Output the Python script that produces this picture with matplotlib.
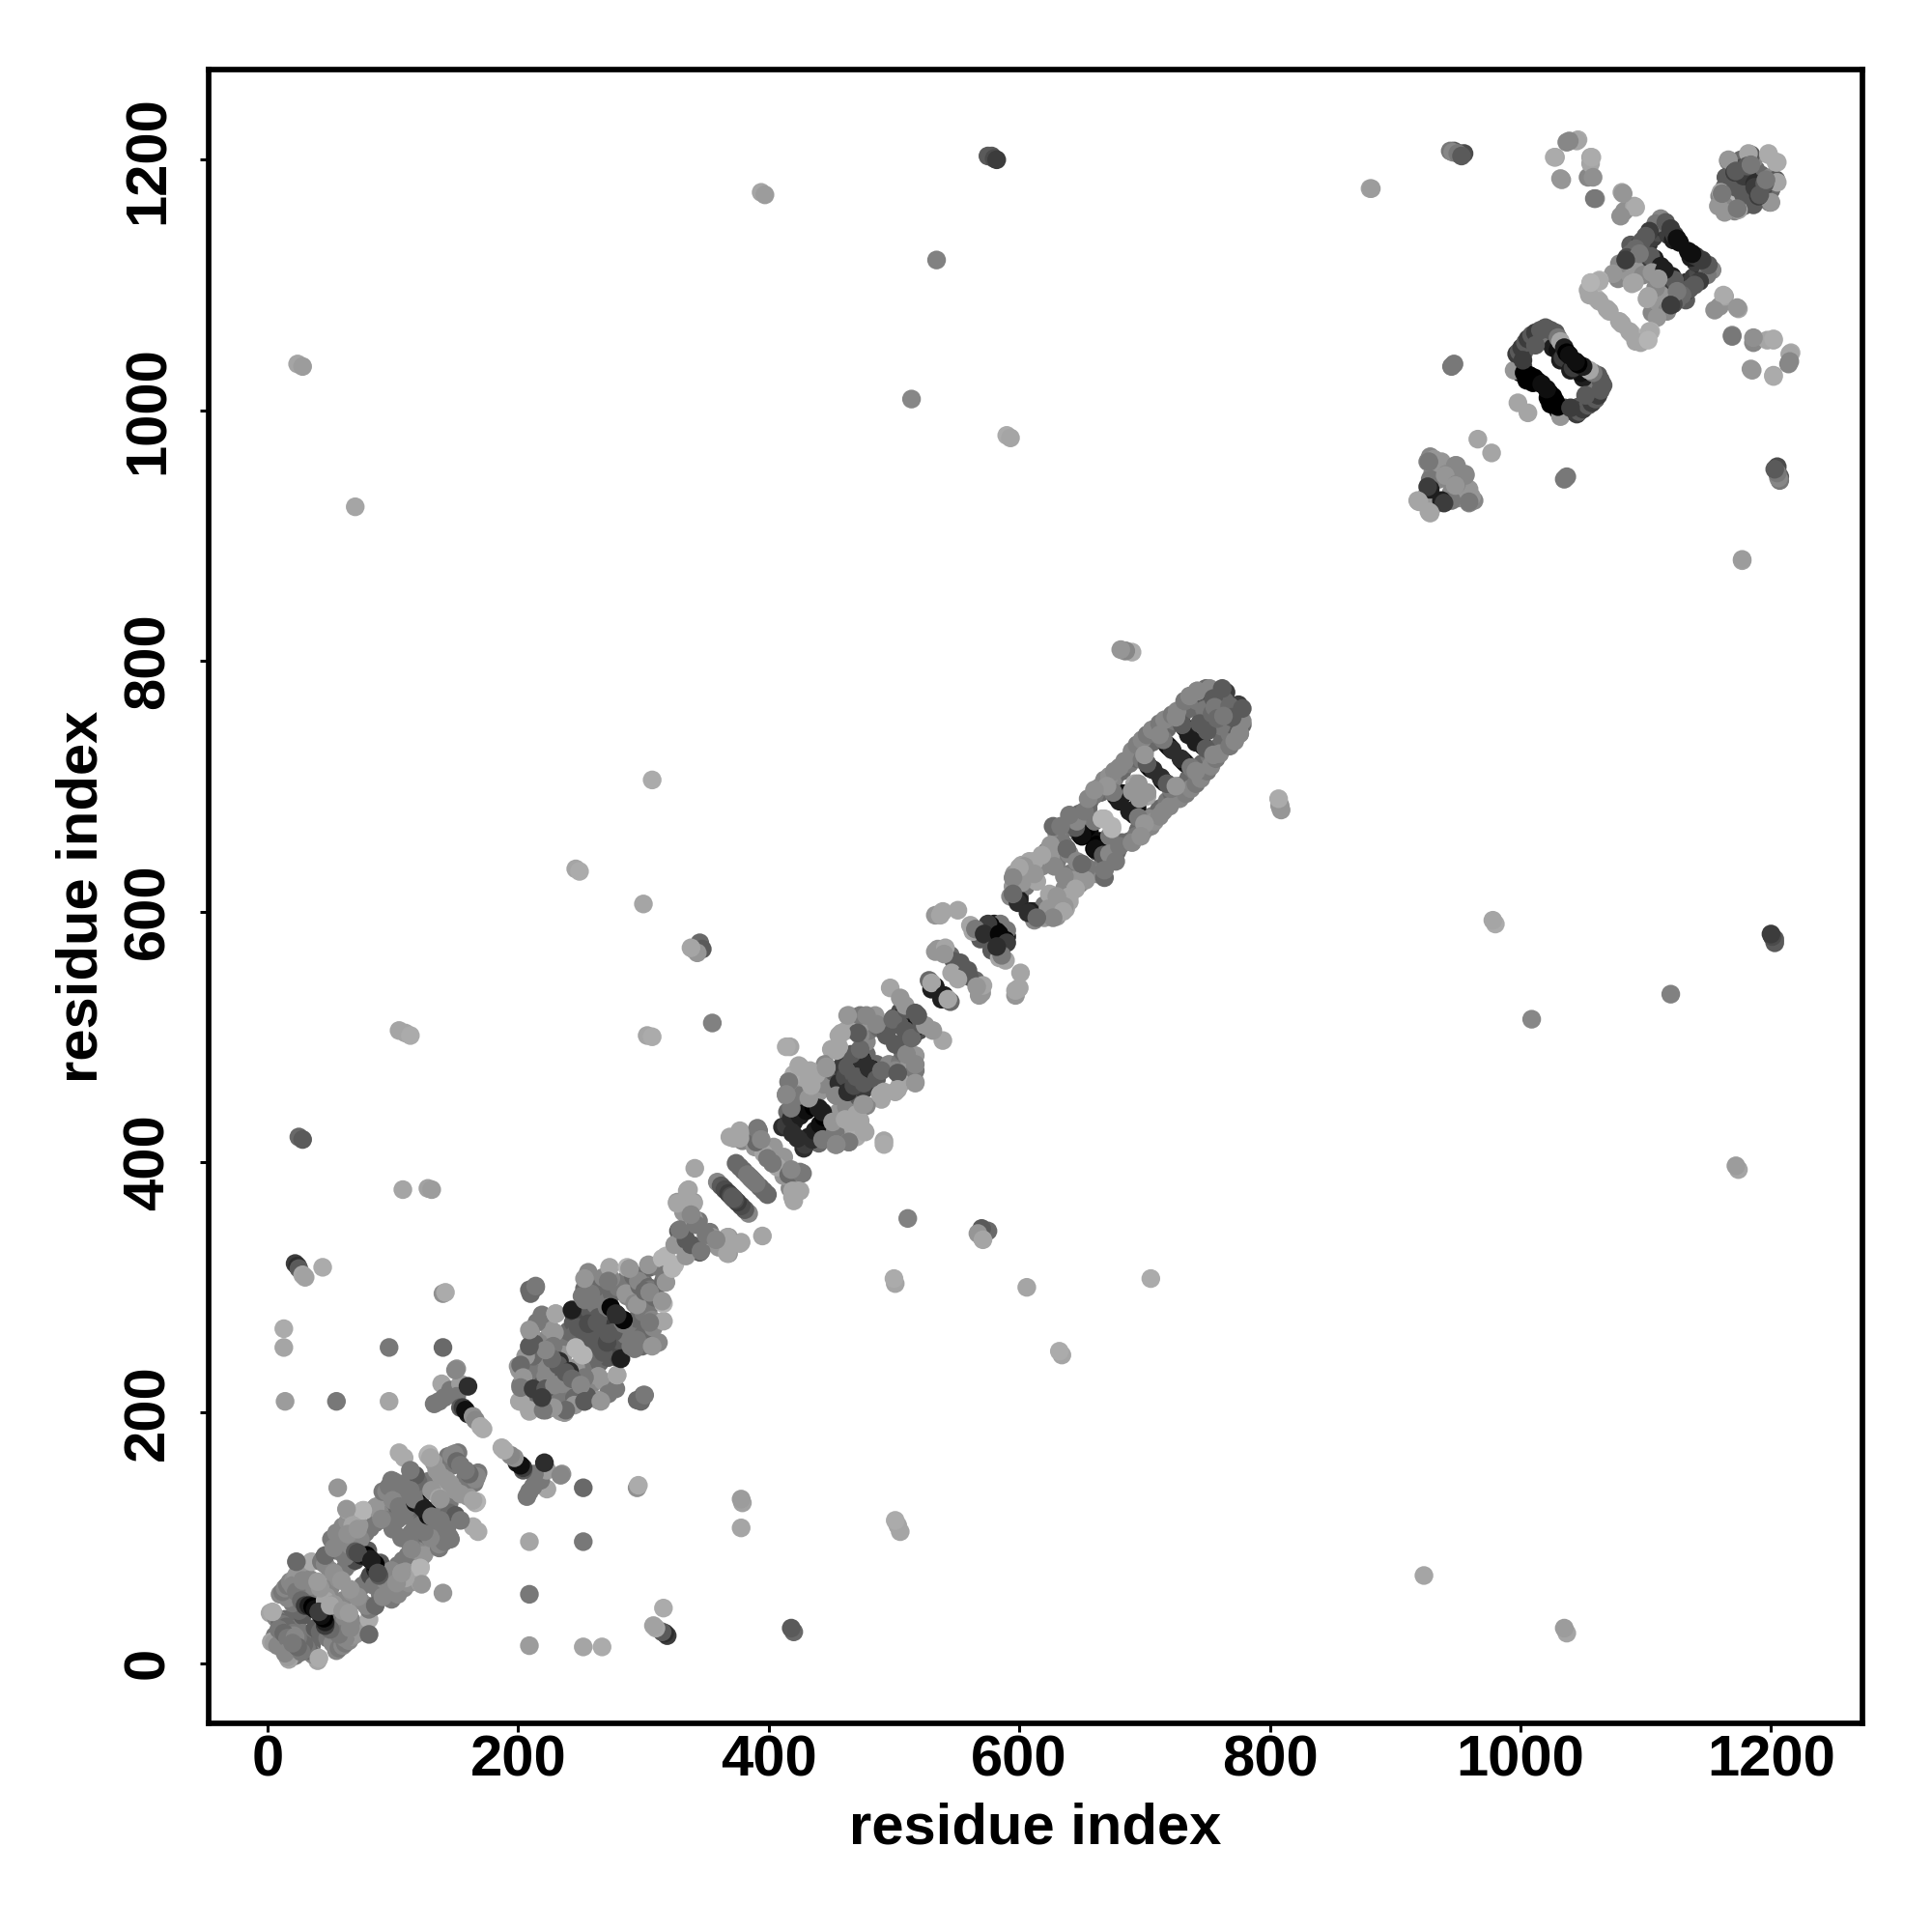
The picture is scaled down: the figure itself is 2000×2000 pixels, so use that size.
import numpy as np
import matplotlib
matplotlib.use('Agg')
import matplotlib.pyplot as plt

# contacts as (residue i, residue j, score)
# the map is symmetric so only i < j is listed, the mirror is drawn below
far_contacts = [
    (575, 1203, .6), (578, 1203, .6), (580, 1201, .65), (582, 1200, .7),
    (394, 1174, .35), (397, 1172, .38), (534, 1120, .47), (880, 1177, .35), (881, 1177, .38),
    (947, 1207, .6), (951, 1205, .6), (955, 1205, .65),
    (24, 1037, .35), (28, 1035, .38), (514, 1009, .45), (590, 980, .33), (593, 978, .35),
    (70, 923, .35), (947, 1037, .5), (945, 1035, .5),
    (684, 808, .4), (690, 807, .33), (808, 685, .45), (809, 681, .4),
    (307, 705, .33), (246, 634, .35), (249, 632, .33), (300, 606, .35),
    (340, 570, .4), (345, 575, .55), (347, 570, .6), (343, 567, .4), (338, 571, .35),
    (355, 511, .47), (105, 505, .35), (110, 503, .35), (114, 501, .33),
    (303, 501, .35), (307, 500, .33), (25, 420, .55), (28, 418, .6),
    (108, 378, .35), (128, 379, .36), (131, 378, .38),
    (22, 319, .7), (24, 317, .75), (25, 315, .6), (28, 310, .35), (30, 308, .36), (44, 316, .33),
    (140, 295, .42), (142, 296, .33), (13, 267, .33), (13, 252, .35), (97, 252, .5), (140, 252, .55),
    (14, 209, .38), (55, 209, .5), (97, 209, .35), (56, 140, .4),
    (944, 1207, .5), (946, 1206, .45), (950, 1205, .5), (953, 1203, .6), (1172, 1175, .3),
]

fill_low = [
    (6, 22, .5), (10, 20, .55), (14, 35, .55), (19, 33, .55), (24, 28, .5), (28, 38, .6), (25, 42, .55),
    (20, 48, .5), (16, 52, .45), (24, 63, .5), (28, 58, .5), (32, 52, .55), (38, 58, .5), (35, 62, .45),
    (42, 50, .5), (50, 60, .45), (58, 72, .5), (62, 76, .5), (66, 80, .5), (70, 82, .65),
    (60, 88, .55), (62, 85, .5), (55, 90, .5), (68, 95, .55), (72, 100, .5), (78, 104, .5), (82, 108, .5),
    (86, 112, .5), (80, 90, .6), (96, 125, .5), (100, 120, .55),
    (104, 115, .5), (110, 118, .5), (114, 124, .55), (108, 135, .55), (112, 128, .6), (104, 136, .55),
    (120, 136, .5), (124, 140, .5), (128, 145, .5), (116, 145, .55), (120, 145, .55),
    (140, 155, .5), (145, 158, .55), (152, 168, .5), (144, 165, .5), (148, 158, .5),
]

fill_mid = [
    (205, 228, .55), (208, 215, .55), (212, 230, .5), (215, 240, .5), (218, 245, .45), (222, 258, .45),
    (225, 268, .4), (215, 272, .5), (235, 252, .55), (238, 258, .5), (240, 265, .55), (244, 272, .6),
    (250, 278, .65), (258, 280, .6), (262, 286, .5), (268, 290, .5), (275, 295, .55), (280, 300, .5),
    (285, 305, .5), (262, 300, .55), (268, 308, .45), (270, 275, .7), (275, 280, .75), (226, 234, .6),
    (212, 245, .55), (206, 245, .4), (236, 246, .4), (260, 268, .6), (245, 262, .55),
    (330, 342, .6), (335, 350, .5), (332, 360, .4), (395, 412, .4), (404, 412, .4), (385, 420, .45),
    (420, 432, .8), (423, 440, .7), (428, 445, .65), (432, 448, .5), (436, 452, .45), (440, 456, .4),
    (444, 462, .45), (448, 468, .45), (452, 472, .6), (458, 476, .7), (462, 482, .7), (466, 478, .8),
    (470, 480, .85), (478, 486, .55), (495, 510, .55),
    (500, 515, .6), (505, 520, .65), (508, 518, .8), (478, 496, .45), (480, 505, .5), (474, 510, .4),
    (468, 510, .35), (462, 505, .35), (450, 490, .35), (445, 478, .45), (438, 470, .35), (428, 462, .35),
    (420, 455, .4), (420, 470, .33), (415, 440, .55),
    (535, 570, .4), (545, 565, .55), (550, 556, .6), (574, 586, .85), (570, 585, .8), (580, 590, .8),
    (585, 590, .5), (530, 538, .8), (600, 612, .7), (605, 620, .5), (610, 632, .45), (618, 636, .45),
    (622, 648, .5), (630, 640, .5), (612, 640, .35), (596, 630, .4),
]

fill_band = [
    (665, 695, .55), (670, 700, .5), (676, 706, .5), (682, 712, .55), (688, 718, .5), (694, 722, .55),
    (700, 728, .5), (706, 735, .55), (712, 740, .5), (718, 746, .55), (724, 752, .5), (730, 757, .55),
    (736, 762, .55), (742, 768, .5), (748, 772, .6), (752, 776, .65), (703, 716, .8), (718, 733, .8),
    (732, 747, .9), (683, 694, .85), (677, 692, .8), (655, 665, .8), (755, 772, .85), (758, 775, .7),
    (756, 770, .75), (765, 775, .7), (640, 668, .55), (645, 672, .6), (650, 675, .55), (655, 682, .55),
    (635, 665, .5), (630, 662, .45), (656, 664, .85), (653, 662, .9), (648, 662, .7), (660, 672, .5),
]

fill_high = [
    (999, 1042, .65), (1003, 1047, .6), (1007, 1052, .6), (1013, 1058, .65), (1018, 1060, .6), (1023, 1060, .5),
    (1000, 1030, .8), (1005, 1024, .9), (1010, 1022, .9), (1026, 1050, .8), (1030, 1048, .85), (1032, 1040, .8),
    (1034, 1042, .7), (1002, 1035, .65), (1088, 1132, .6), (1090, 1122, .55), (1095, 1132, .7), (1098, 1128, .6),
    (1102, 1132, .75), (1106, 1138, .7), (1110, 1142, .65), (1115, 1145, .75), (1118, 1140, .7), (1122, 1136, .8),
    (1096, 1118, .6), (1100, 1115, .7), (1108, 1116, .75), (1078, 1105, .45), (1082, 1112, .5), (1086, 1110, .4),
    (1092, 1112, .4), (1098, 1108, .45),
    (1168, 1190, .55), (1170, 1196, .6), (1175, 1185, .7), (1176, 1200, .55), (1178, 1194, .65), (1174, 1180, .55),
    (1163, 1178, .55), (1165, 1168, .45), (1188, 1192, .55), (1186, 1200, .45),
    (930, 950, .45), (935, 945, .45), (932, 955, .4), (945, 953, .45), (928, 945, .5), (925, 932, .4),
]

helix_a = [
    (2, 40, .35), (5, 39, .35), (7, 36, .45), (10, 33, .55), (12, 31, .5), (15, 29, .55),
    (17, 26, .55), (20, 24, .5), (21, 22, .45), (3, 17, .35), (5, 16, .38), (8, 14, .45),
    (9, 27, .5), (13, 24, .55), (16, 20, .5), (4, 41, .33),
    (10, 55, .45), (12, 57, .5), (14, 60, .45), (16, 62, .5), (18, 65, .45), (21, 67, .42), (23, 70, .4),
    (20, 62, .45), (23, 57, .5), (27, 50, .55), (25, 75, .4), (30, 70, .4), (28, 66, .45), (34, 67, .45),
    (35, 81, .33), (23, 81, .55), (30, 46, .7), (33, 46, .8), (36, 45, .92), (38, 43, .85), (41, 41, .7),
    (47, 53, .4), (46, 50, .35), (45, 84, .65), (43, 81, .5), (46, 79, .45), (50, 74, .45), (53, 72, .42),
    (57, 67, .42), (59, 66, .4), (46, 86, .55), (42, 60, .4), (40, 65, .38),
]

helix_b = [
    (51, 99, .5), (53, 92, .45), (55, 104, .45), (58, 97, .45), (60, 109, .45), (64, 113, .42), (66, 104, .45),
    (64, 122, .35), (77, 122, .3), (73, 110, .4), (74, 99, .45), (66, 94, .45), (70, 89, .6),
    (75, 86, .8), (79, 86, .92), (82, 83, .8), (72, 88, .65),
    (87, 125, .4), (90, 119, .45), (95, 114, .5), (100, 107, .5), (86, 124, .4), (91, 115, .45),
    (76, 122, .3), (63, 123, .4), (68, 110, .35), (60, 100, .45), (64, 103, .42), (72, 107, .4),
]

helix_c = [
    (92, 137, .5), (95, 137, .45), (97, 141, .5), (101, 145, .5), (105, 168, .33), (109, 164, .33),
    (112, 140, .5), (107, 130, .5), (110, 122, .5), (100, 130, .45), (105, 125, .5), (115, 150, .5),
    (118, 150, .6), (118, 128, .85), (122, 127, .92), (123, 125, .8), (117, 131, .5), (114, 138, .5),
    (107, 143, .5), (99, 146, .5), (114, 154, .5), (128, 166, .33), (129, 167, .3), (133, 160, .4),
    (138, 150, .4), (143, 146, .4), (147, 161, .5), (147, 166, .45), (149, 167, .45), (151, 161, .55),
    (154, 158, .5), (135, 154, .4), (130, 164, .35), (132, 137, .35), (131, 138, .4),
    (133, 207, .5), (137, 209, .5), (139, 223, .35), (141, 212, .5), (146, 218, .5), (151, 235, .42),
    (154, 223, .38), (151, 213, .5), (154, 204, .6), (156, 204, .7), (160, 199, .8), (158, 202, .85),
    (160, 221, .75), (164, 197, .42), (166, 194, .45), (170, 189, .33), (172, 187, .33), (150, 234, .45),
]

helix_d = [
    (200, 237, .4), (201, 234, .4), (202, 222, .5), (206, 222, .6), (201, 209, .35), (202, 209, .35),
    (210, 264, .4), (209, 253, .45), (213, 255, .6), (209, 298, .55), (214, 300, .5), (219, 278, .5),
    (230, 279, .3), (229, 264, .4), (228, 253, .5), (233, 241, .75), (223, 235, .45), (219, 222, .6),
    (243, 281, .65), (248, 268, .6), (252, 265, .6), (255, 261, .6), (246, 252, .3), (246, 251, .3),
    (222, 229, .45), (232, 238, .6), (227, 243, .55), (222, 250, .45), (202, 238, .55), (204, 228, .4),
    (202, 220, .5), (212, 219, .7), (209, 253, .6), (209, 266, .4), (230, 279, .35), (243, 282, .8),
    (256, 312, .45), (253, 299, .55), (251, 293, .5), (274, 307, .45), (273, 316, .35), (287, 316, .3),
    (297, 309, .55), (300, 304, .55), (298, 305, .5), (305, 316, .55), (310, 317, .5),
    (264, 276, .6), (256, 271, .65), (271, 284, .5), (263, 272, .6), (274, 284, .88), (278, 279, .75),
    (287, 293, .45), (286, 295, .4), (272, 305, .5), (258, 295, .5), (253, 307, .4), (253, 290, .5),
    (292, 309, .55), (297, 301, .55), (296, 305, .45), (304, 318, .4), (289, 315, .4), (315, 323, .3),
    (318, 325, .3), (210, 295, .55), (214, 301, .5),
]

helix_e = [
    (336, 378, .35), (327, 368, .4), (340, 368, .4), (344, 353, .5), (328, 345, .6), (333, 340, .65),
    (325, 334, .4), (334, 338, .6), (329, 346, .5), (340, 355, .4), (340, 367, .35), (335, 377, .35),
    (327, 367, .35), (341, 395, .35), (342, 350, .5), (338, 358, .45),
    (359, 384, .45), (362, 381, .6), (365, 378, .65), (368, 375, .7), (370, 373, .65), (371, 372, .6),
    (374, 399, .55), (377, 396, .55), (380, 393, .55), (383, 390, .5), (385, 388, .5), (386, 387, .5),
    (369, 420, .35), (377, 425, .35), (379, 417, .45), (391, 427, .5), (389, 412, .4),
    (396, 407, .35), (399, 403, .5), (390, 416, .55), (377, 419, .35), (377, 424, .35), (372, 419, .35),
    (392, 425, .5), (394, 418, .45),
]

helix_f = [
    (411, 428, .75), (414, 429, .7), (419, 423, .75), (418, 435, .75), (425, 437, .8), (430, 441, .85),
    (436, 444, .92), (440, 443, .8), (425, 476, .35), (433, 473, .35), (446, 476, .4), (432, 466, .35),
    (416, 464, .35), (414, 453, .4), (424, 453, .5), (418, 443, .5), (414, 454, .45), (416, 464, .38),
    (416, 464, .5), (414, 454, .45), (424, 477, .35), (432, 451, .4), (434, 461, .35), (446, 475, .4),
    (453, 454, .45), (456, 463, .75), (461, 468, .65), (463, 476, .6), (468, 470, .6), (470, 486, .7),
    (474, 482, .92), (475, 480, .75), (456, 501, .35), (473, 501, .45), (464, 517, .35), (473, 517, .5),
    (485, 517, .4), (466, 486, .6), (454, 489, .35), (488, 507, .55), (494, 501, .6), (486, 510, .45),
    (473, 490, .55), (471, 503, .6), (478, 517, .45), (463, 517, .4), (458, 503, .35), (456, 492, .35),
    (513, 519, .85), (505, 509, .6), (499, 514, .55), (497, 539, .35), (505, 531, .4), (510, 522, .6),
    (509, 525, .4), (517, 519, .6), (417, 492, .35), (414, 492, .33),
]

helix_g = [
    (533, 597, .4), (538, 599, .35), (551, 601, .35), (533, 568, .4), (541, 571, .35), (548, 560, .6),
    (553, 559, .6), (540, 566, .4), (546, 551, .35), (528, 545, .55), (533, 540, .8), (530, 543, .35),
    (539, 600, .35), (537, 597, .35), (577, 589, .88), (582, 584, .88), (575, 590, .7), (561, 589, .35),
    (569, 578, .6), (563, 584, .35), (565, 586, .5), (572, 582, .75),
    (593, 612, .45), (595, 620, .4), (600, 609, .8), (603, 628, .35), (602, 637, .35), (608, 640, .35),
    (613, 625, .35), (614, 624, .35), (612, 630, .4), (602, 623, .4), (604, 636, .4), (625, 643, .4),
    (635, 654, .5), (640, 646, .45), (625, 653, .4), (638, 650, .55), (628, 636, .45), (618, 645, .35),
    (600, 635, .35), (595, 627, .45), (599, 607, .75), (595, 614, .55),
]

helix_h = [
    (650, 660, .92), (650, 661, .85), (643, 671, .55), (648, 678, .55), (656, 688, .55), (664, 699, .45),
    (645, 667, .6), (646, 672, .45), (652, 680, .5), (660, 693, .5), (666, 674, .3), (668, 674, .3),
    (679, 690, .88), (680, 688, .8), (674, 704, .45), (692, 702, .35), (705, 714, .88), (707, 713, .75),
    (720, 731, .85), (722, 729, .75), (734, 745, .95), (735, 741, .8), (730, 749, .6), (760, 772, .85),
    (757, 774, .55), (749, 778, .55), (742, 776, .4), (746, 755, .55), (748, 761, .5),
    (668, 705, .45), (672, 708, .42), (676, 712, .45), (680, 715, .45), (684, 720, .45), (690, 728, .45),
    (694, 733, .48), (698, 737, .45), (702, 741, .5), (706, 745, .45), (712, 750, .5), (716, 753, .45),
    (722, 757, .5), (726, 760, .45), (732, 768, .5), (736, 772, .45), (742, 776, .45),
    (698, 721, .5), (702, 718, .6), (715, 737, .5), (712, 741, .45), (725, 755, .45), (752, 778, .45),
    (675, 695, .5), (670, 700, .4), (690, 696, .4), (695, 702, .4), (700, 725, .4),
    (744, 750, .6), (754, 758, .55), (764, 768, .55), (762, 778, .6), (755, 770, .6), (756, 763, .5),
    (627, 668, .55), (633, 668, .5), (640, 677, .5), (655, 690, .45), (660, 697, .42),
]

helix_i = [
    (928, 963, .45), (926, 959, .45), (937, 959, .4), (941, 949, .45), (948, 956, .45), (949, 956, .45),
    (928, 937, .8), (926, 939, .7), (919, 927, .35), (918, 928, .35), (940, 948, .4), (931, 961, .4),
    (927, 959, .5), (966, 977, .35), (998, 1006, .35),
    (995, 1032, .4), (997, 1045, .7), (999, 1047, .6), (1001, 1050, .7), (1004, 1054, .6), (1006, 1057, .7),
    (1009, 1060, .6), (1012, 1062, .7), (1016, 1064, .6), (1020, 1066, .6), (1024, 1064, .6), (1028, 1062, .6),
    (1030, 1058, .5), (1032, 1055, .35), (1035, 1050, .8), (1037, 1046, .9), (1039, 1044, .85),
    (1003, 1030, .9), (1007, 1028, .9), (1011, 1026, .95), (1014, 1023, .95), (1017, 1021, .85),
    (1002, 1040, .7), (1012, 1052, .6),
]

helix_j = [
    (1112, 1153, .45), (1108, 1149, .5), (1103, 1143, .7), (1100, 1139, .6), (1097, 1135, .6), (1092, 1129, .55),
    (1088, 1125, .55), (1085, 1122, .65), (1079, 1117, .45), (1074, 1109, .4), (1116, 1150, .6), (1120, 1145, .7),
    (1123, 1140, .7), (1125, 1137, .85), (1127, 1134, .85), (1107, 1121, .8), (1104, 1123, .6), (1112, 1115, .8),
    (1095, 1125, .5), (1084, 1120, .7), (1091, 1102, .35), (1089, 1101, .35), (1105, 1110, .4),
    (1063, 1104, .3), (1054, 1096, .35), (1061, 1089, .3), (1069, 1081, .35), (1071, 1079, .35), (1063, 1087, .35),
    (1055, 1092, .35), (1063, 1103, .33), (1056, 1102, .3),
    (1083, 1159, .42), (1091, 1163, .35), (1081, 1174, .35),
    (1037, 1214, .45), (1046, 1216, .33), (1028, 1202, .35), (1056, 1202, .35), (1033, 1184, .4), (1054, 1186, .45),
    (1060, 1169, .45), (1082, 1173, .4), (1092, 1162, .33), (1080, 1155, .42), (1056, 1197, .35), (1057, 1202, .33),
    (1045, 1215, .35), (1039, 1215, .45), (1032, 1185, .4), (1027, 1202, .33), (1059, 1169, .5), (1058, 1186, .42),
    (1166, 1199, .5), (1164, 1186, .6), (1184, 1204, .6), (1198, 1204, .33), (1198, 1205, .33), (1182, 1205, .35),
    (1166, 1200, .4), (1159, 1171, .45), (1158, 1163, .4), (1160, 1174, .35), (1172, 1178, .6), (1181, 1187, .75),
    (1178, 1187, .7), (1171, 1190, .7), (1181, 1195, .6), (1172, 1191, .6), (1184, 1196, .5), (1161, 1173, .5),
]

# the fill lists go underneath so the darkest spots stay on top
blocks = [fill_low, fill_mid, fill_band, fill_high, far_contacts, helix_a, helix_b, helix_c,
          helix_d, helix_e, helix_f, helix_g, helix_h, helix_i, helix_j]
x_ticks = [0, 200, 400, 600, 800, 1000, 1200]
axis_label = 'residue index'

#####################################################################
# plot:
fig = plt.figure(figsize=(20, 20), dpi=100)
ax = fig.add_axes([0.108, 0.108, 0.856, 0.856])

for block in blocks:
    i, j, score = np.array(block).T
    ax.scatter(np.r_[i, j], np.r_[j, i], c=np.r_[score, score], s=195, cmap='gray_r',
               vmin=0.05, vmax=0.9, linewidths=0, zorder=2)

#####################################################################
# format:
ax.set_xlim(-47, 1273)
ax.set_ylim(-48, 1272)
ax.set_xticks(x_ticks)
ax.set_yticks(x_ticks)
for spine in ax.spines.values():
    spine.set_linewidth(4.1)
ax.tick_params(length=6.5, width=2.2)
ax.tick_params(axis='x', pad=1.5)
ax.tick_params(axis='y', pad=18.5)
for lab in ax.get_xticklabels() + ax.get_yticklabels():
    lab.set_fontsize(43)
    lab.set_fontweight('bold')
    lab.set_family('Liberation Sans')
for lab in ax.get_yticklabels():
    lab.set_rotation(90)
    lab.set_va('center')
ax.set_xlabel(axis_label, fontsize=43, fontweight='bold', family='Liberation Sans', labelpad=11)
ax.set_ylabel(axis_label, fontsize=43, fontweight='bold', family='Liberation Sans', labelpad=10)

fig.savefig('out.png', dpi=100)
